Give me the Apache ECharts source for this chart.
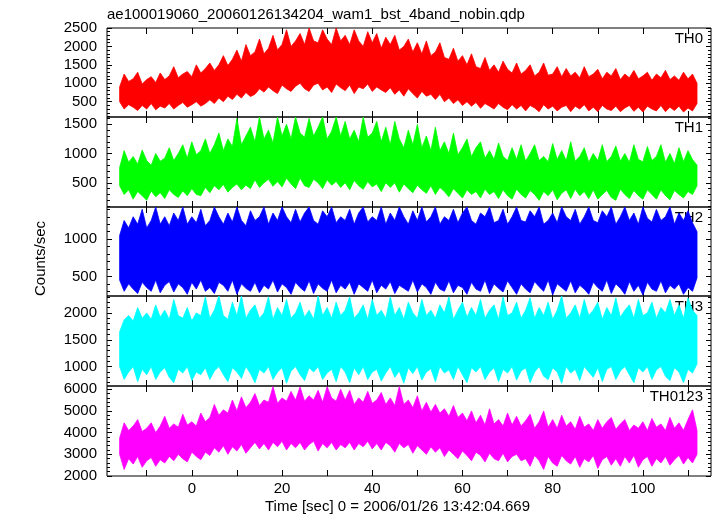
<!DOCTYPE html>
<html><head><meta charset="utf-8">
<script src="https://cdn.jsdelivr.net/npm/echarts@6/dist/echarts.min.js"></script>
<style>html,body{margin:0;padding:0;background:#fff}#c{width:717px;height:516px}</style>
</head><body><div id="c"></div>
<script>
const chartTitle = 'ae100019060_20060126134204_wam1_bst_4band_nobin.qdp';
const xName = 'Time [sec] 0 = 2006/01/26 13:42:04.669';
const yName = 'Counts/sec';
const panelNames = ['TH0', 'TH1', 'TH2', 'TH3', 'TH0123'];
const times = [-16,-15,-14,-13,-12,-11,-10,-9,-8,-7,
  -6,-5,-4,-3,-2,-1,0,1,2,3,
  4,5,6,7,8,9,10,11,12,13,
  14,15,16,17,18,19,20,21,22,23,
  24,25,26,27,28,29,30,31,32,33,
  34,35,36,37,38,39,40,41,42,43,
  44,45,46,47,48,49,50,51,52,53,
  54,55,56,57,58,59,60,61,62,63,
  64,65,66,67,68,69,70,71,72,73,
  74,75,76,77,78,79,80,81,82,83,
  84,85,86,87,88,89,90,91,92,93,
  94,95,96,97,98,99,100,101,102,103,
  104,105,106,107,108,109,110,111,112];

const th0Hi = [900,1250,1050,1120,1300,980,1100,1180,1020,1280,
  1100,1200,1450,1150,1250,1320,1180,1500,1280,1400,
  1550,1350,1500,1750,1480,1650,1900,1600,2050,1750,
  1850,2200,1800,1950,2300,1900,2050,2450,2000,2150,
  2350,2050,2500,2150,2100,2450,2200,2050,2500,2150,
  2300,2050,2450,2150,2000,2400,2100,2350,1950,2250,
  2050,2300,1900,2000,2200,1850,2100,1800,2150,1750,
  1850,2100,1700,1650,1950,1600,1750,1500,1800,1450,
  1400,1700,1350,1500,1300,1600,1380,1280,1550,1250,
  1350,1500,1200,1300,1550,1220,1250,1450,1180,1400,
  1200,1300,1150,1450,1180,1250,1380,1120,1300,1200,
  1400,1100,1250,1150,1350,1120,1200,1300,1080,1250,
  1150,1350,1100,1200,1080,1300,1120,1250,1000];
const th0Lo = [500,300,420,350,260,400,300,450,280,380,
  330,450,300,400,480,350,420,500,380,450,
  550,450,600,500,650,560,700,600,750,640,
  700,850,760,900,800,720,950,850,780,920,
  1000,850,780,950,1000,820,900,750,980,880,
  800,950,720,900,850,980,780,900,820,750,
  880,700,820,650,850,720,600,780,650,700,
  560,700,500,600,450,550,400,500,380,480,
  320,450,380,300,450,350,280,420,300,400,
  250,400,330,230,420,300,380,250,350,400,
  230,380,300,420,250,350,230,400,300,260,
  380,230,330,400,240,350,220,380,300,250,
  400,230,350,260,380,220,330,250,450];

const th1Hi = [760,1050,850,950,820,1060,880,800,1000,870,
  920,1100,880,1000,1150,920,1200,980,1050,1250,
  1000,1150,1350,1050,1250,1120,1600,1150,1300,1450,
  1200,1625,1250,1400,1180,1625,1300,1500,1250,1625,
  1350,1280,1600,1300,1450,1625,1250,1380,1625,1300,
  1550,1250,1400,1200,1625,1280,1350,1550,1200,1450,
  1150,1550,1250,1100,1400,1150,1500,1100,1300,1050,
  1450,1050,1200,1000,1350,980,1100,1250,950,1100,
  1200,920,1050,900,1180,950,880,1100,900,1150,
  870,1000,1150,880,950,860,1170,900,1050,880,
  1200,870,950,1100,850,1000,880,1150,860,950,
  1130,870,1000,850,1150,900,860,1120,880,950,
  1150,850,1000,830,1100,860,1050,900,800];
const th1Lo = [450,300,380,220,350,280,200,360,260,330,
  230,380,300,250,360,280,400,300,280,420,
  330,450,380,470,340,420,480,380,460,400,
  550,420,500,560,440,520,430,580,480,400,
  580,450,420,560,500,400,550,460,520,420,
  500,380,540,450,390,520,430,480,350,500,
  420,500,340,480,400,330,460,380,320,450,
  300,420,350,260,400,320,240,380,300,350,
  240,390,300,350,230,380,280,220,390,300,
  240,370,300,200,350,280,380,210,320,380,
  230,390,280,350,230,380,220,300,370,250,
  200,390,300,230,370,280,220,380,300,220,
  380,280,210,370,300,240,350,300,450];

const th2Hi = [1050,1250,1150,1300,1200,1400,1150,1250,1431,1200,
  1300,1180,1350,1250,1431,1200,1300,1220,1400,1180,
  1250,1431,1300,1200,1350,1230,1431,1250,1180,1380,
  1250,1300,1431,1200,1350,1250,1431,1300,1220,1400,
  1230,1350,1431,1250,1200,1380,1300,1431,1220,1300,
  1250,1400,1200,1350,1431,1230,1300,1250,1431,1200,
  1350,1250,1431,1300,1200,1380,1250,1431,1230,1300,
  1431,1200,1300,1250,1400,1220,1350,1431,1250,1200,
  1350,1300,1431,1220,1250,1400,1200,1300,1431,1250,
  1230,1380,1300,1431,1200,1250,1350,1220,1431,1300,
  1250,1400,1200,1300,1431,1250,1220,1380,1300,1431,
  1200,1300,1431,1250,1350,1200,1431,1280,1230,1400,
  1250,1300,1431,1200,1350,1250,1380,1220,1100];
const th2Lo = [450,300,400,330,270,420,350,300,450,280,
  380,430,290,400,350,260,420,330,450,300,
  350,270,420,380,300,450,260,400,340,300,
  420,280,380,330,450,290,400,350,260,420,
  350,300,440,270,400,340,300,450,280,380,
  330,420,260,400,350,300,450,280,380,330,
  430,270,380,340,300,450,290,400,350,260,
  420,330,300,440,280,380,350,260,420,330,
  300,450,270,400,340,290,440,350,260,400,
  330,280,430,360,300,450,250,400,350,300,
  440,280,380,330,260,420,350,300,450,270,
  400,340,260,430,300,380,250,420,330,300,
  440,280,380,330,400,260,350,300,480];

const th3Hi = [1650,1870,1950,1850,2100,1900,2000,1880,2150,1920,
  2050,1880,2250,1950,1900,2100,1850,2000,1950,2300,
  1900,2050,2315,1950,1880,2200,1950,2315,1900,2050,
  2150,1900,2000,2300,1880,2100,1950,2250,1900,2000,
  2200,1920,2050,1880,2315,1950,2100,1900,2200,1950,
  2050,2300,1900,2000,2150,1880,2250,1950,2050,1900,
  2300,1950,2100,1880,2200,2000,1900,2250,1950,2050,
  1900,2150,2000,2300,1880,2050,2200,1920,2100,1950,
  2250,1900,2050,2150,1880,2300,1950,2000,2200,1900,
  2050,2280,1900,2100,1950,2200,1880,2050,2315,1900,
  2000,2150,1900,2250,1950,2050,2200,1880,2100,1950,
  2280,1920,2050,2150,1900,2250,1950,2000,2200,1900,
  2100,2000,2250,1950,2150,1900,2280,2050,1950];
const th3Lo = [1000,760,900,1000,720,950,850,1000,760,900,
  980,800,700,950,880,1000,740,900,850,980,
  760,920,1000,850,720,980,900,780,1000,870,
  700,950,880,1000,760,900,980,690,920,1000,
  850,740,980,900,1000,760,880,950,720,1000,
  900,700,980,850,1000,760,900,950,730,880,
  1000,800,920,690,980,870,1000,750,900,960,
  720,1000,880,940,760,1000,850,700,980,900,
  1000,760,900,980,720,950,880,1000,750,920,
  980,700,900,1000,820,760,980,900,690,1000,
  880,950,740,1000,900,800,980,720,950,1000,
  760,920,1000,850,700,980,900,1000,760,940,
  1000,820,740,980,900,700,950,880,1050];

const th0123Hi = [3750,4450,4100,4300,4600,4050,4200,4450,4000,4300,
  4750,4200,4400,4250,4850,4350,4500,4300,4900,4500,
  4700,5300,4800,5050,4900,5500,5000,5650,5150,5400,
  5800,5250,5500,5400,6120,5350,5600,5450,5900,5500,
  6100,5450,5700,5500,5950,5400,6120,5600,5450,6000,
  5500,5950,5300,5600,5400,5900,5350,5500,5850,5300,
  5600,5250,6120,5300,5500,5150,5700,5000,5400,4950,
  5300,4900,5100,4750,5250,4700,4900,4550,5000,4450,
  4800,4350,5100,4400,4600,4300,4900,4350,4750,4300,
  4550,4850,4200,4500,5000,4250,4600,4200,4800,4300,
  4500,4150,4750,4250,4400,4100,4600,4200,4500,4700,
  4150,4400,4600,4100,4350,4200,4500,4100,4650,4250,
  4400,4100,4700,4200,4450,4100,4600,5050,4100];
const th0123Lo = [3000,2300,2800,2550,2900,2400,2700,2850,2450,2750,
  2600,2900,2700,3000,2800,2650,3100,2900,2750,3100,
  2950,3300,3100,3400,3000,3350,3150,3450,3050,3300,
  3550,3250,3500,3200,3550,3350,3600,3200,3500,3300,
  3550,3200,3450,3600,3150,3500,3300,3550,3200,3450,
  3300,3550,3200,3500,3350,3600,3250,3500,3200,3550,
  3400,3100,3500,3300,3450,3050,3400,3200,3000,3350,
  3100,3300,2900,3200,3000,2800,3150,2950,2700,3100,
  2950,2650,3050,2800,2700,3050,2650,2900,3000,2700,
  2800,2450,2950,2700,2300,2900,2600,2450,2950,2700,
  2550,2900,2400,2800,2650,2950,2350,2750,2900,2500,
  2800,2450,2900,2600,2950,2400,2750,2900,2450,2800,
  2600,2900,2500,2750,2950,2550,2850,2600,3000];

const hiSeries = [th0Hi, th1Hi, th2Hi, th3Hi, th0123Hi];
const loSeries = [th0Lo, th1Lo, th2Lo, th3Lo, th0123Lo];

const xTickVals = [-10,0,10,20,30,40,50,60,70,80,90,100,110];
const xLabelVals = [0,20,40,60,80,100];
const yLabelVals = [[500,1000,1500,2000,2500],[500,1000,1500],[500,1000],[1000,1500,2000],[2000,3000,4000,5000,6000]];
const yMinorVals = [
  [100,200,300,400,600,700,800,900,1100,1200,1300,1400,1600,1700,1800,1900,2100,2200,2300,2400],
  [100,200,300,400,600,700,800,900,1100,1200,1300,1400,1600],
  [300,400,600,700,800,900,1100,1200,1300,1400],
  [700,800,900,1100,1200,1300,1400,1600,1700,1800,1900,2100,2200,2300],
  [2200,2400,2600,2800,3200,3400,3600,3800,4200,4400,4600,4800,5200,5400,5600,5800,6000]
];

const colors = ['#ff0000','#00ff00','#0000ff','#00ffff','#ff00ff'];
const yMins = [85, 86, 237, 639, 2000];
const yMaxs = [2500, 1625, 1431, 2315, 6150];
const xMin = -18.8, xMax = 115.1;
const gridTops = [28, 117, 207, 296, 386];
const gridHeights = [89, 90, 89, 90, 90];
const FONT = 'Liberation Sans, Arial, sans-serif';
const plain = v => String(v);

const grids = [], xAxes = [], yAxes = [], series = [], graphics = [];
panelNames.forEach((name, i) => {
  grids.push({left: 107, width: 604, top: gridTops[i], height: gridHeights[i], show: true,
    borderColor: '#000', borderWidth: 1, backgroundColor: 'transparent'});
  ['bottom', 'top'].forEach(pos => {
    xAxes.push({type: 'value', gridIndex: i, position: pos, min: xMin, max: xMax,
      axisLine: {show: false, onZero: false},
      axisTick: {show: true, inside: true, length: 6, customValues: xTickVals, lineStyle: {color: '#000', width: 1}},
      axisLabel: {show: pos === 'bottom' && i === 4, customValues: xLabelVals, formatter: plain, color: '#000', fontSize: 15, fontFamily: FONT, margin: 5},
      splitLine: {show: false}});
  });
  [['left', true], ['left', false], ['right', true], ['right', false]].forEach(([pos, major]) => {
    yAxes.push({type: 'value', gridIndex: i, position: pos, offset: 0, min: yMins[i], max: yMaxs[i],
      axisLine: {show: false, onZero: false},
      axisTick: {show: true, inside: true, length: major ? 5 : 3, customValues: major ? yLabelVals[i] : yMinorVals[i], lineStyle: {color: '#000', width: 1}},
      axisLabel: {show: pos === 'left' && major, customValues: yLabelVals[i], formatter: plain, color: '#000', fontSize: 15, fontFamily: FONT, margin: 10},
      splitLine: {show: false}});
  });
  const color = colors[i];
  series.push({type: 'custom', name: name, xAxisIndex: 2 * i, yAxisIndex: 4 * i, silent: true,
    data: times.map((t, k) => [t, loSeries[i][k], hiSeries[i][k]]),
    encode: {x: 0, y: [1, 2]},
    renderItem: function (params, api) {
      if (params.dataIndexInside !== 0) return null;
      const n = params.dataInsideLength;
      const top = [], bot = [];
      for (let j = 0; j < n; j++) {
        top.push(api.coord([api.value(0, j), api.value(2, j)]));
        bot.push(api.coord([api.value(0, j), api.value(1, j)]));
      }
      return {type: 'polygon', shape: {points: top.concat(bot.reverse())},
        style: {fill: color, stroke: color, lineWidth: 0.8}};
    }});
  graphics.push({type: 'text', x: 703, y: gridTops[i] + 11, silent: true,
    style: {text: name, fill: '#000', font: '15px ' + FONT, textAlign: 'right', textVerticalAlign: 'middle'}});
});
graphics.push({type: 'text', x: 107, y: 15, silent: true,
  style: {text: chartTitle, fill: '#000', font: '15px ' + FONT, textAlign: 'left', textVerticalAlign: 'middle'}});
graphics.push({type: 'text', x: 397.5, y: 506.5, silent: true,
  style: {text: xName, fill: '#000', font: '15px ' + FONT, textAlign: 'center', textVerticalAlign: 'middle'}});
graphics.push({type: 'text', x: 41, y: 258.5, rotation: Math.PI / 2, silent: true,
  style: {text: yName, fill: '#000', font: '15px ' + FONT, textAlign: 'center', textVerticalAlign: 'middle'}});

const chart = echarts.init(document.getElementById('c'), null, {renderer: 'canvas'});
chart.setOption({animation: false, backgroundColor: '#fff', grid: grids, xAxis: xAxes, yAxis: yAxes,
  series: series, graphic: graphics});
</script></body></html>
